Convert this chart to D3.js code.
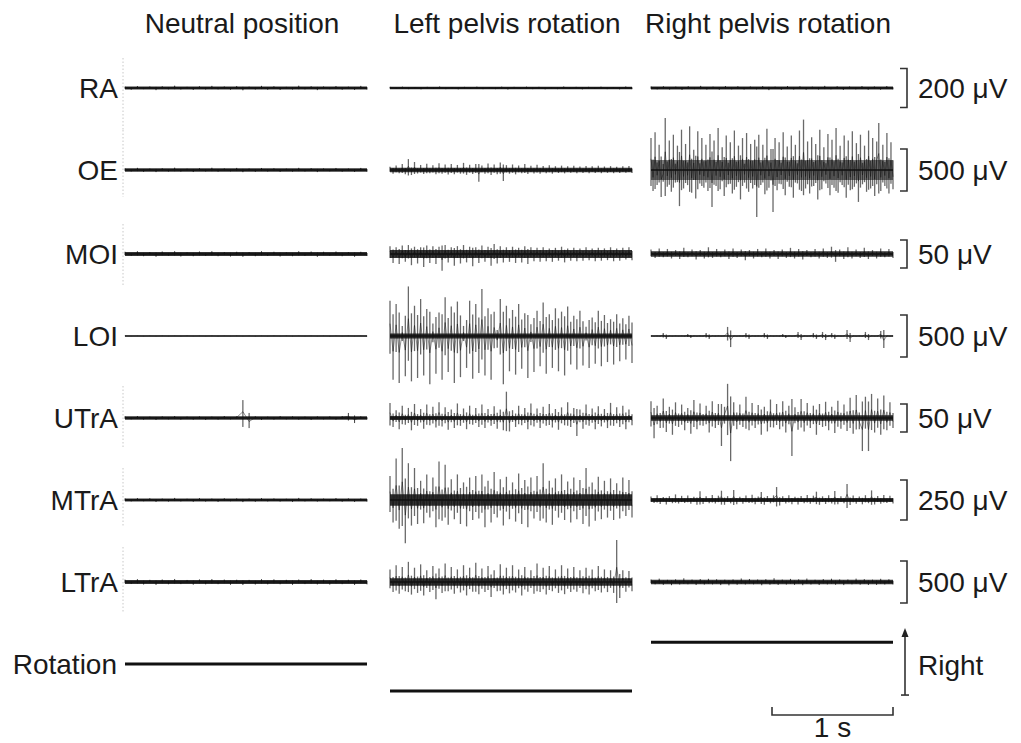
<!DOCTYPE html>
<html><head><meta charset="utf-8">
<script src="https://cdn.jsdelivr.net/npm/d3@7"></script>
<style>
body{margin:0;background:#fff}
svg{display:block}
text{font-family:"Liberation Sans",Arial,Helvetica,sans-serif;fill:#1a1a1a}
</style>
</head><body>
<svg id="c" width="1021" height="743"></svg>
<script>
// ---------------- DATA ----------------
const conditions = ["Neutral position", "Left pelvis rotation", "Right pelvis rotation"];
const muscles = ["RA", "OE", "MOI", "LOI", "UTrA", "MTrA", "LTrA"];
const calibration = [200, 500, 50, 500, 50, 250, 500]; // μV per calibration bar
const calibLabels = ["200 μV", "500 μV", "50 μV", "500 μV", "50 μV", "250 μV", "500 μV"];
const durationS = 2;        // seconds shown per panel
const timeBarS = 1;         // time calibration
const timeBarLabel = "1 s";
const rotationLabel = "Rotation";
const rotationDirLabel = "Right";
const rotationDeg = [0, -10, 8.1]; // neutral, left, right

// dense-band half thickness (μV) per muscle
const coreNeutral = [8, 20, 3.5, 0, 3, 9, 24];
const coreLeft    = [6, 26, 7, 30, 3.6, 36, 44];
const coreRight   = [8, 120, 5, 0, 5, 13, 28];

// sampled peaks (μV)
const neuRA   = [7,-9,10,-6,8,-11,9,-7,12,-8,6,-10,9,-8,11,-7,8,-9,10,-12,7,-8,11,-9,9,-10,6,-8,12,-7,9,-11,8,-6,10,-9,7,-10,11,-8];
const neuOE   = [20,-18,26,-22,17,-25,21,-19,28,-20,16,-24,22,-18,27,-21,19,-17,25,-26,18,-22,24,-19,21,-23,17,-20,26,-18,22,-25,19,-16,24,-21,18,-23,25,-20];
const neuMOI  = [4,-3.5,5,-4,3.5,-5,4.5,-3,5,-4.5,3,-4,4.5,-3.5,5,-4,3.5,-4.5,4,-5,3.5,-4,5,-3.5,4,-4.5,3,-4,5,-3.5,4.5,-5,4,-3,4.5,-4,3.5,-5,4,-3.5];
const neuLOI  = [3,-2,2,-3,2,-2,3,-2,2,-3,3,-2,2,-2,3,-3,2,-2,3,-2,2,-3,2,-2,3,-2,3,-3,2,-2,3,-2,2,-3,2,-2,3,-2,2,-3];
const neuUTrA = [3,-2.5,3.5,-3,2.5,-3.5,3,-2.5,3.5,-3,2.5,-3,3,-3.5,2.5,-3,3.5,-2.5,3,32,-18,3,-3.5,2.5,-3,3.5,-2.5,3,-3,2.5,-3.5,3,-2.5,3,-3,3.5,9,-9,3,-2.5];
const neuMTrA = [10,-9,12,-8,11,-12,9,-10,13,-9,8,-11,12,-10,9,-12,11,-8,10,-13,9,-11,12,-9,10,-10,8,-12,13,-9,11,-10,9,-8,12,-11,10,-12,9,-10];
const neuLTrA = [28,-24,34,-30,26,-35,30,-27,36,-25,24,-32,31,-28,35,-26,29,-33,27,-36,25,-30,34,-28,32,-27,26,-34,30,-25,35,-29,28,-31,33,-26,27,-35,30,-28];

const lftRA   = [6,-5,7,-6,5,-7,6,-5,8,-6,5,-7,6,-5,7,-6,5,-6,7,-8,6,-5,7,-6,6,-7,5,-6,8,-5,6,-7,6,-5,7,-6,5,-7,8,-6];
const lftOE   = [40,-45,55,-38,70,-50,130,-60,95,-42,60,-48,75,-40,58,-52,80,-45,65,-55,72,-50,60,-44,85,-58,62,-48,70,-140,55,-46,78,-60,64,-50,90,-130,58,-44,66,-52,55,-40,70,-48,50,-42,62,-46,48,-38,56,-44,45,-36,52,-40,46,-34,50,-38,42,-35,48,-40,44,-36,50,-38,42,-34,46,-38,40,-36,44,-32,48,-36];
const lftMOI  = [14,-16,12,-18,15,-14,16,-20,13,-17,12,-23,15,-16,14,-18,13,-30,16,-15,12,-21,14,-17,16,-15,13,-22,12,-16,15,-14,13,-21,18,-17,14,-15,12,-14,13,-16,11,-15,14,-18,12,-13,11,-14,12,-13,10,-14,11,-12,13,-15,10,-12,11,-13,10,-12,12,-11,10,-13,11,-12,10,-11,12,-13,10,-12,11,-10,12,-11];
const lftLOI  = [420,-520,380,-560,120,-480,590,-540,360,-500,440,-470,320,-575,150,-450,280,-520,460,-430,350,-560,410,-490,120,-380,420,-510,380,-440,560,-470,330,-520,290,-140,440,-575,360,-420,310,-460,380,-390,270,-500,140,-430,300,-360,400,-450,260,-380,330,-420,290,-470,350,-340,240,-400,300,-350,110,-380,220,-330,300,-360,250,-310,200,-340,260,-300,210,-280,240,-320];
const lftUTrA = [27,-16,14,-20,22,-12,18,-22,25,-14,16,-19,24,-13,20,-17,28,-15,19,-21,15,-18,26,-14,17,-20,22,-12,18,-16,24,-18,16,-14,21,-19,15,-22,47,-24,14,-16,22,-13,18,-20,26,-15,17,-18,20,-14,25,-17,16,-21,19,-13,28,-16,18,-32,15,-19,24,-14,17,-20,21,-15,16,-18,27,-14,19,-16,22,-20,15,-13];
const lftMTrA = [150,-140,260,-180,325,-270,230,-160,200,-150,120,-145,160,-110,140,-170,240,-130,220,-155,130,-120,160,-150,110,-165,140,-125,150,-115,160,-170,120,-140,175,-110,130,-160,145,-120,110,-135,165,-150,125,-170,140,-115,150,-130,230,-140,120,-155,135,-110,160,-125,115,-140,140,-120,125,-150,200,-165,110,-130,145,-120,120,-110,135,-125,105,-115,140,-100,125,-110];
const lftLTrA = [150,-120,200,-140,180,-110,240,-150,170,-130,210,-160,140,-120,190,-205,160,-130,220,-110,180,-140,150,-125,200,-160,170,-115,230,-145,160,-120,190,-180,140,-110,210,-150,170,-135,200,-125,150,-160,180,-115,140,-140,220,-120,170,-150,190,-110,150,-130,200,-145,160,-120,180,-115,140,-135,170,-150,150,-110,190,-125,150,-120,140,-130,500,-190,140,-115,130,-110];

const rgtRA   = [8,-7,9,-8,7,-10,9,-6,11,-8,7,-9,10,-7,9,-8,8,-7,10,-11,7,-9,10,-8,9,-9,7,-8,11,-7,9,-10,8,-7,10,-9,8,-9,10,-7];
const rgtOE   = [380,-250,450,-180,300,-320,-140,620,-200,350,-260,420,-150,290,-430,480,-220,310,-180,520,-270,240,-340,460,-160,380,-210,300,-250,430,-440,350,-190,500,-230,270,-310,410,-170,330,-280,470,-200,290,-350,380,-150,440,-260,310,-220,360,-560,420,-180,300,-290,490,-210,250,-500,380,-240,330,-170,450,-300,280,-200,410,-330,300,-160,470,-250,600,-220,340,-280,390,-190,310,-350,480,-230,270,-160,430,-300,360,-210,500,-270,290,-180,410,-330,350,-240,460,-200,320,-380,420,-170,290,-260,470,-220,380,-310,340,560,-250,300,-190,440,-280,330,-230];
const rgtMOI  = [8,-7,10,-6,9,-8,7,-9,11,-6,8,-10,7,-8,12,-7,9,-6,8,-9,10,-7,8,-11,7,-8,9,-6,10,-8,7,-9,8,-7,11,-8,9,-10,7,-6,9,-8,10,-7,13,-14,8,-9,12,-8,8,-7,11,-9,7,-8,10,-6,9,-7];
const rgtLOI  = [3,-2,3,-3,36,-36,2,-3,3,-2,3,-3,24,-24,3,-2,3,-3,36,-36,2,-3,3,-2,3,108,-132,3,-2,3,-3,36,-36,2,-3,3,-2,36,-36,3,-3,2,-3,24,-24,3,-2,3,48,-48,3,-2,3,36,-36,3,48,-48,3,36,-36,2,-3,3,72,-72,3,-2,3,-3,48,-48,3,-2,3,60,-144,3,-2,3];
const rgtUTrA = [30,-36,22,-18,35,-25,20,-30,28,-16,24,-22,18,-28,32,-20,26,-14,22,-26,30,-18,25,-50,20,61,-77,28,-20,24,-16,38,-22,27,-18,23,-30,20,-24,33,-17,25,-20,30,-26,22,-68,19,-21,34,-24,27,-18,22,-30,25,-16,29,-22,20,-27,31,-19,24,-23,36,-28,41,-20,-59,38,-59,43,-26,35,-30,40,-22,28,-18];
const rgtMTrA = [22,-18,30,-25,19,-28,24,-20,35,-22,26,-19,28,-24,21,-30,55,-25,23,-20,31,-22,27,58,-30,24,-21,62,-26,20,-24,28,-19,33,-27,22,50,-30,25,-21,29,81,-35,24,-22,30,-26,21,-28,25,-20,32,-24,27,52,-30,23,-25,29,-22,56,-26,24,-21,100,-32,28,-24,22,-27,30,-20,60,-28,25,-23,31,-19,26,-22];
const rgtLTrA = [30,-28,40,-34,26,-38,32,-30,44,-27,29,-36,35,-31,38,-29,33,-37,28,-40,31,-33,42,-30,36,-28,30,-39,34,-32,45,-35,29,-31,37,-34,32,-38,41,-30,27,-36,35,-29,39,-33,31,-37,30,-28,40,-32,34,-36,28,-35,38,-30,33,-29];

const traces = [
  [neuRA, neuOE, neuMOI, neuLOI, neuUTrA, neuMTrA, neuLTrA],
  [lftRA, lftOE, lftMOI, lftLOI, lftUTrA, lftMTrA, lftLTrA],
  [rgtRA, rgtOE, rgtMOI, rgtLOI, rgtUTrA, rgtMTrA, rgtLTrA]
];
const cores = [coreNeutral, coreLeft, coreRight];

// ---------------- LAYOUT ----------------
const rowY   = [88, 170, 254, 336, 418, 500, 582];
const barPx  = [39, 42, 28, 42, 28, 40, 42];
const panelX = [125, 390, 651];
const panelW = 242;
const dotted = [[0,-30,42],[1,-40,27],[2,-30,33],[4,-32,29],[5,-32,26],[6,-35,30]];

const svg = d3.select("#c");

// titles
conditions.forEach((c, p) => {
  svg.append("text").attr("x", panelX[p] + panelW/2 - 4).attr("y", 33)
    .attr("text-anchor", "middle").attr("font-size", 28).text(c);
});

// dotted marks at the start of neutral traces
dotted.forEach(([m, a, b]) => {
  svg.append("line").attr("x1", 123).attr("x2", 123)
    .attr("y1", rowY[m] + a).attr("y2", rowY[m] + b)
    .attr("stroke", "#c8c8c8").attr("stroke-width", 1).attr("stroke-dasharray", "1.5,2");
});

// muscle labels
muscles.forEach((m, i) => {
  svg.append("text").attr("x", 118).attr("y", rowY[i]).attr("dy", "0.36em")
    .attr("text-anchor", "end").attr("font-size", 28).text(m);
});

// traces: biphasic spikes as vertical strokes, with a dense core band
traces.forEach((panel, p) => {
  panel.forEach((series, m) => {
    const n = series.length;
    const x = d3.scaleLinear().domain([0, n - 1]).range([panelX[p], panelX[p] + panelW]);
    const y = d3.scaleLinear().domain([-calibration[m]/2, calibration[m]/2])
      .range([rowY[m] + barPx[m]/2, rowY[m] - barPx[m]/2]);
    const core = cores[p][m];
    const active = p > 0 && m !== 0 && !(p === 2 && m === 6);
    const g = svg.append("g");
    g.selectAll("line").data(series).join("line")
      .attr("x1", (d, i) => x(i)).attr("x2", (d, i) => x(i))
      .attr("y1", d => y(-d * 0.5)).attr("y2", d => y(d))
      .attr("stroke", active ? "#444" : "#2a2a2a")
      .attr("stroke-width", active ? 1.3 : 1)
      .attr("stroke-opacity", active ? 0.8 : 0.9);
    g.append("path").datum(series)
      .attr("d", d3.line().x((d, i) => x(i)).y(d => y(d * 0.35)))
      .attr("fill", "none").attr("stroke", "#111").attr("stroke-width", 0.8).attr("stroke-opacity", 0.6);
    g.append("line").attr("x1", panelX[p]).attr("x2", panelX[p] + panelW)
      .attr("y1", y(0)).attr("y2", y(0))
      .attr("stroke", "#111").attr("stroke-width", 1.4);
    if (core > 0) {
      g.append("path").datum(series)
        .attr("d", d3.area().x((d, i) => x(i)).y0(y(-core)).y1(y(core)))
        .attr("fill", "#111").attr("fill-opacity", p === 2 && m === 1 ? 0.55 : 0.85);
    }
  });
});

// calibration brackets
muscles.forEach((m, i) => {
  const y = d3.scaleLinear().domain([-calibration[i]/2, calibration[i]/2])
    .range([rowY[i] + barPx[i]/2, rowY[i] - barPx[i]/2]);
  const y0 = y(-calibration[i]/2), y1 = y(calibration[i]/2);
  svg.append("path").attr("d", `M900,${y1}H907V${y0}H900`)
    .attr("fill", "none").attr("stroke", "#333").attr("stroke-width", 1.6);
  svg.append("text").attr("x", 918).attr("y", rowY[i]).attr("dy", "0.36em")
    .attr("font-size", 28).text(calibLabels[i]);
});

// rotation
const rotY = d3.scaleLinear().domain([0, 10]).range([664, 637]);
rotationDeg.forEach((r, p) => {
  svg.append("line").attr("x1", panelX[p]).attr("x2", panelX[p] + panelW)
    .attr("y1", rotY(r)).attr("y2", rotY(r))
    .attr("stroke", "#111").attr("stroke-width", 3);
});
svg.append("text").attr("x", 117).attr("y", rotY(rotationDeg[0])).attr("dy", "0.36em")
  .attr("text-anchor", "end").attr("font-size", 28).text(rotationLabel);

// direction arrow
const ax = 905, aTop = rotY(13.3), aBot = rotY(-11.5);
svg.append("line").attr("x1", ax).attr("x2", ax).attr("y1", aTop + 6).attr("y2", aBot)
  .attr("stroke", "#333").attr("stroke-width", 1.6);
svg.append("path").attr("d", `M${ax},${aTop}L${ax-3.5},${aTop+9}L${ax+3.5},${aTop+9}Z`).attr("fill", "#222");
svg.append("line").attr("x1", ax - 4).attr("x2", ax + 4).attr("y1", aBot).attr("y2", aBot)
  .attr("stroke", "#333").attr("stroke-width", 1.6);
svg.append("text").attr("x", 918).attr("y", (aTop + aBot)/2 + 3).attr("dy", "0.36em")
  .attr("font-size", 28).text(rotationDirLabel);

// time bar
const tx = d3.scaleLinear().domain([0, durationS]).range([panelX[2], panelX[2] + panelW]);
const tb0 = tx(durationS - timeBarS), tb1 = tx(durationS);
svg.append("path").attr("d", `M${tb0},707V715H${tb1}V707`)
  .attr("fill", "none").attr("stroke", "#333").attr("stroke-width", 1.6);
svg.append("text").attr("x", (tb0 + tb1)/2).attr("y", 737).attr("text-anchor", "middle")
  .attr("font-size", 28).text(timeBarLabel);
</script>
</body></html>
